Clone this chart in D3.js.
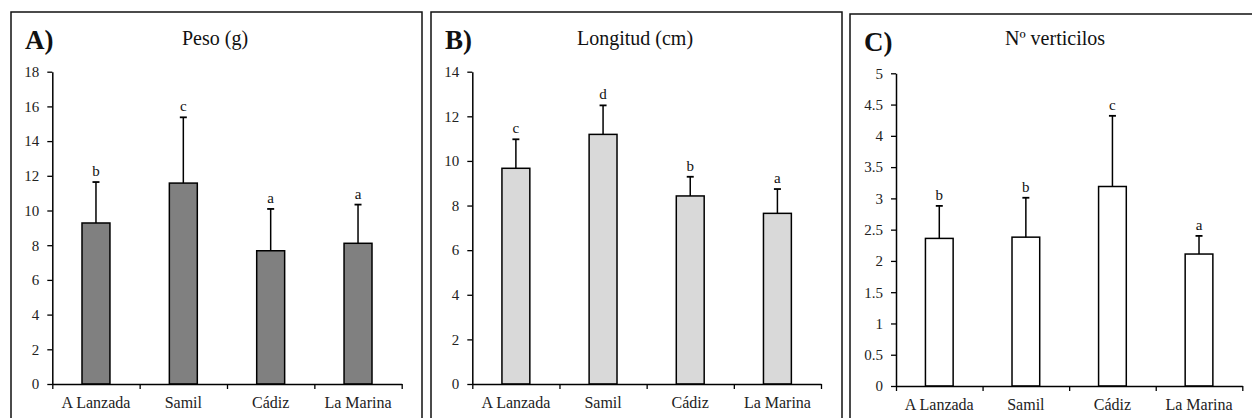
<!DOCTYPE html>
<html lang="es">
<head>
  <meta charset="UTF-8">
  <script src="https://d3js.org/d3.v7.min.js"></script>
  <title>Peso, longitud y verticilos</title>
  <style>
    body { margin: 0; background: #fff; }
    svg { display: block; }
  </style>
</head>
<body>
  <svg width="1252" height="418"></svg>
  <script>
    // datos
    const sites = ["A Lanzada", "Samil", "Cádiz", "La Marina"];

    const pesoMean = [9.28, 11.58, 7.68, 8.11];
    const pesoSd = [2.36, 3.79, 2.41, 2.23];
    const pesoLetters = ["b", "c", "a", "a"];
    const pesoTicks = [0, 2, 4, 6, 8, 10, 12, 14, 16, 18];

    const longMean = [9.67, 11.19, 8.43, 7.65];
    const longSd = [1.30, 1.30, 0.86, 1.09];
    const longLetters = ["c", "d", "b", "a"];
    const longTicks = [0, 2, 4, 6, 8, 10, 12, 14];

    const vertMean = [2.36, 2.38, 3.19, 2.11];
    const vertSd = [0.52, 0.63, 1.13, 0.29];
    const vertLetters = ["b", "b", "c", "a"];
    const vertTicks = [0, 0.5, 1, 1.5, 2, 2.5, 3, 3.5, 4, 4.5, 5];

    const FONT = "Liberation Serif";

    const panels = [
      { tag: "A)", title: "Peso (g)", mean: pesoMean, sd: pesoSd, letters: pesoLetters, ticks: pesoTicks,
        fill: "#808080", frame: [11, 12, 411], plot: [52.3, 401.7, 384, 71.7], titleX: 215 },
      { tag: "B)", title: "Longitud (cm)", mean: longMean, sd: longSd, letters: longLetters, ticks: longTicks,
        fill: "#d9d9d9", frame: [431, 12, 411], plot: [472.3, 821, 384, 71.7], titleX: 635 },
      { tag: "C)", title: "Nº verticilos", mean: vertMean, sd: vertSd, letters: vertLetters, ticks: vertTicks,
        fill: "#ffffff", frame: [850, 14, 430], plot: [896, 1242.3, 386, 73.3], titleX: 1055 }
    ];

    const svg = d3.select("svg");

    panels.forEach(p => {
      const [x0, x1, yBot, yTop] = p.plot;
      const g = svg.append("g").attr("font-family", FONT);

      // marco del panel (la parte de abajo queda fuera de la imagen)
      g.append("rect")
        .attr("x", p.frame[0]).attr("y", p.frame[1])
        .attr("width", p.frame[2]).attr("height", 430)
        .attr("fill", "none").attr("stroke", "#111").attr("stroke-width", 1.5);

      g.append("text")
        .attr("x", p.frame[0] + 14).attr("y", p.frame[1] + 37)
        .attr("font-size", 27).attr("font-weight", "bold")
        .attr("fill", "#111")
        .text(p.tag);

      g.append("text")
        .attr("x", p.titleX).attr("y", 45)
        .attr("text-anchor", "middle").attr("font-size", 20)
        .attr("fill", "#111")
        .text(p.title);

      const y = d3.scaleLinear()
        .domain([0, d3.max(p.ticks)])
        .range([yBot, yTop]);

      const x = d3.scaleBand()
        .domain(sites)
        .range([x0, x1])
        .paddingInner(0.68)
        .paddingOuter(0.34);

      const xEdge = d3.scaleLinear().domain([0, sites.length]).range([x0, x1]);

      // barras
      g.selectAll("rect.bar")
        .data(sites)
        .join("rect")
        .attr("class", "bar")
        .attr("x", d => x(d))
        .attr("width", x.bandwidth())
        .attr("y", (d, i) => y(p.mean[i]))
        .attr("height", (d, i) => y(0) - y(p.mean[i]))
        .attr("fill", p.fill)
        .attr("stroke", "#000")
        .attr("stroke-width", 1.5);

      // barras de error (solo hacia arriba)
      const cx = d => x(d) + x.bandwidth() / 2;
      g.selectAll("line.err")
        .data(sites)
        .join("line")
        .attr("class", "err")
        .attr("x1", cx).attr("x2", cx)
        .attr("y1", (d, i) => y(p.mean[i]))
        .attr("y2", (d, i) => y(p.mean[i] + p.sd[i]))
        .attr("stroke", "#000").attr("stroke-width", 1.5);

      g.selectAll("line.cap")
        .data(sites)
        .join("line")
        .attr("class", "cap")
        .attr("x1", d => cx(d) - 3.5).attr("x2", d => cx(d) + 3.5)
        .attr("y1", (d, i) => y(p.mean[i] + p.sd[i]))
        .attr("y2", (d, i) => y(p.mean[i] + p.sd[i]))
        .attr("stroke", "#000").attr("stroke-width", 1.8);

      g.selectAll("text.sig")
        .data(sites)
        .join("text")
        .attr("class", "sig")
        .attr("x", cx)
        .attr("y", (d, i) => y(p.mean[i] + p.sd[i]) - 6)
        .attr("text-anchor", "middle").attr("font-size", 15)
        .attr("fill", "#111")
        .text((d, i) => p.letters[i]);

      // eje y
      const yAxis = d3.axisLeft(y).tickValues(p.ticks).tickSize(5).tickSizeOuter(0).tickPadding(8)
        .tickFormat(d3.format("~g"));
      const yG = g.append("g").attr("transform", `translate(${x0},0)`).call(yAxis)
        .attr("font-family", FONT);
      yG.select(".domain").attr("stroke", "#000").attr("stroke-width", 1.5);
      yG.selectAll(".tick line").attr("stroke", "#000").attr("stroke-width", 1.3);
      yG.selectAll(".tick text").attr("font-size", 15).attr("fill", "#222");

      // eje x: marcas entre categorías
      const xAxis = d3.axisBottom(xEdge).tickValues(d3.range(sites.length + 1)).tickSize(5)
        .tickSizeOuter(0).tickFormat("");
      const xG = g.append("g").attr("transform", `translate(0,${yBot})`).call(xAxis);
      xG.select(".domain").attr("stroke", "#000").attr("stroke-width", 1.5);
      xG.selectAll(".tick line").attr("stroke", "#000").attr("stroke-width", 1.3);

      // nombres de las localidades
      const lab = d3.axisBottom(x).tickSize(0).tickPadding(13);
      const lG = g.append("g").attr("transform", `translate(0,${yBot})`).call(lab)
        .attr("font-family", FONT);
      lG.select(".domain").remove();
      lG.selectAll(".tick text").attr("font-size", 16).attr("fill", "#222");
    });
  </script>
</body>
</html>
